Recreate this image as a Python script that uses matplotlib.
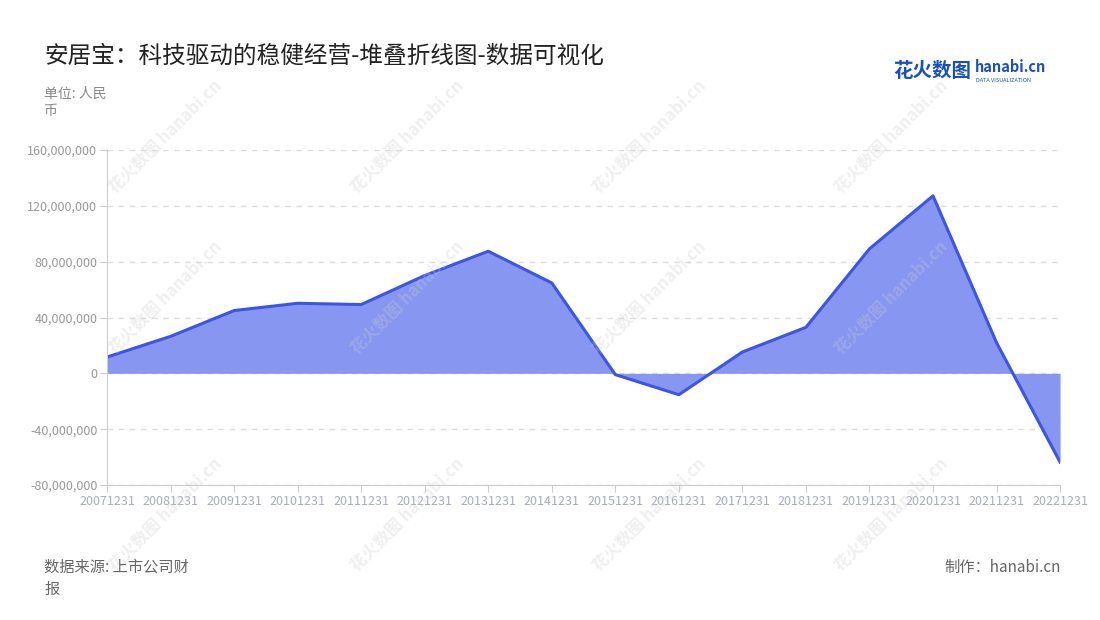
import matplotlib
matplotlib.use('Agg')
import matplotlib.pyplot as plt
from matplotlib.ticker import FuncFormatter

plt.rcParams['font.family'] = ['Noto Sans CJK SC', 'DejaVu Sans']

# 数据
dates = ['20071231', '20081231', '20091231', '20101231', '20111231', '20121231',
         '20131231', '20141231', '20151231', '20161231', '20171231', '20181231',
         '20191231', '20201231', '20211231', '20221231']
profit = [11.7e6, 26.5e6, 45.0e6, 50.2e6, 49.3e6, 70.1e6, 87.5e6, 64.8e6,
          -0.9e6, -15.3e6, 15.3e6, 33.0e6, 89.2e6, 127.2e6, 22.0e6, -63.6e6]
yticks = [-80e6, -40e6, 0, 40e6, 80e6, 120e6, 160e6]

fig = plt.figure(figsize=(11, 6.2), dpi=100)
ax = fig.add_axes([0.0973, 0.2177, 0.8664, 0.5403])

x = list(range(len(dates)))
ax.fill_between(x, 0, profit, color='#8796f0', linewidth=0)
ax.plot(x, profit, color='#3c55e6', linewidth=2.2)

ax.set_xlim(0, len(dates) - 1)
ax.set_ylim(-80e6, 160e6)
ax.set_xticks(x)
ax.set_xticklabels(dates)
ax.set_yticks(yticks)
ax.yaxis.set_major_formatter(FuncFormatter(lambda v, p: f'{int(v):,}'))

ax.grid(axis='y', linestyle=(0, (4, 4)), color='#dddddd', linewidth=1)
ax.set_axisbelow(True)
for s in ['top', 'right']:
    ax.spines[s].set_visible(False)
ax.spines['left'].set_color('#cccccc')
ax.spines['bottom'].set_color('#cccccc')
ax.tick_params(axis='x', colors='#cccccc', labelcolor='#a8adbd', labelsize=9, length=5, pad=2)
ax.tick_params(axis='y', colors='#cccccc', labelcolor='#999999', labelsize=9, length=5, pad=2)

# 水印
for wx in [0.15, 0.37, 0.59, 0.81]:
    for wy in [0.78, 0.52, 0.17]:
        fig.text(wx, wy, '花火数图 hanabi.cn', rotation=45, fontsize=12, color='#cccccc',
                 alpha=0.3, ha='center', va='center', fontweight='bold')

# 标题与注释
fig.text(0.04, 0.91, '安居宝：科技驱动的稳健经营-堆叠折线图-数据可视化', fontsize=17, color='#222222', va='center')
fig.text(0.04, 0.835, '单位: 人民\n币', fontsize=10, color='#888888', va='center', linespacing=1.3)
fig.text(0.04, 0.068, '数据来源: 上市公司财\n报', fontsize=11, color='#666666', va='center', linespacing=1.4)
fig.text(0.964, 0.085, '制作：hanabi.cn', fontsize=11, color='#666666', ha='right', va='center')

# logo
fig.text(0.812, 0.885, '花火数图', fontsize=14, color='#1a4fc4', fontweight='bold', va='center')
fig.text(0.886, 0.892, 'hanabi.cn', fontsize=10.5, color='#1a4fc4', fontweight='bold', va='center')
fig.text(0.887, 0.87, 'DATA VISUALIZATION', fontsize=4, color='#1a4fc4', va='center')

fig.savefig('out.png', dpi=100)
